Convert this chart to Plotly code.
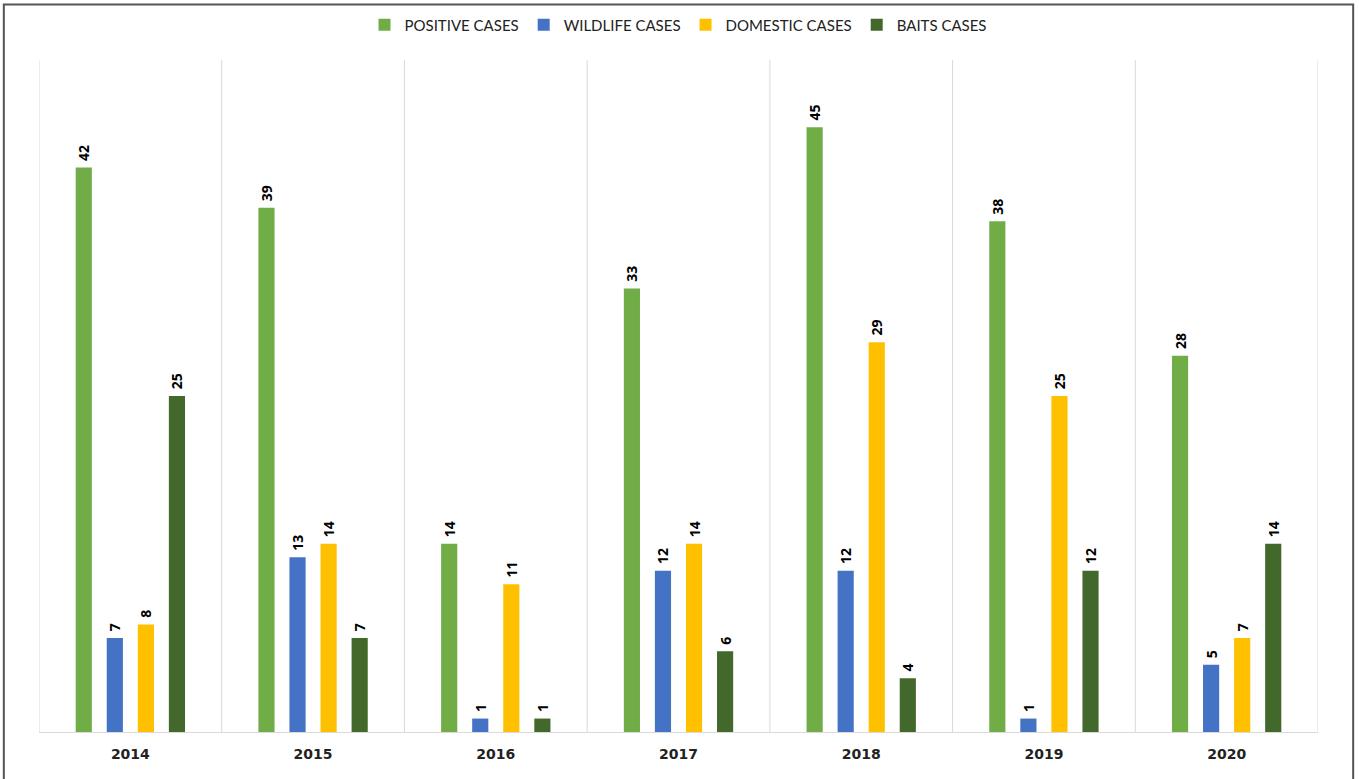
import plotly.graph_objects as go

years = ["2014", "2015", "2016", "2017", "2018", "2019", "2020"]
positive = [42, 39, 14, 33, 45, 38, 28]
wildlife = [7, 13, 1, 12, 12, 1, 5]
domestic = [8, 14, 11, 14, 29, 25, 7]
baits = [25, 7, 1, 6, 4, 12, 14]

series = [
    ("POSITIVE CASES", positive, "#70AD47"),
    ("WILDLIFE CASES", wildlife, "#4472C4"),
    ("DOMESTIC CASES", domestic, "#FFC000"),
    ("BAITS CASES", baits, "#43682B"),
]

xpos = list(range(len(years)))
fig = go.Figure()
for name, vals, col in series:
    fig.add_trace(go.Bar(
        x=xpos, y=vals, name=name, marker_color=col, marker_line_width=0,
        text=["\u00a0" + str(v) for v in vals], textposition="outside", textangle=-90,
        constraintext="none",
        textfont=dict(family="Open Sans", size=14, color="#000", weight="bold"),
        cliponaxis=False, hoverinfo="skip",
    ))

shapes = []
for i in range(len(years) + 1):
    shapes.append(dict(type="line", xref="x", yref="paper", x0=i - 0.5, x1=i - 0.5,
                       y0=0, y1=1, line=dict(color="#d9d9d9", width=1), layer="below"))
shapes.append(dict(type="rect", xref="paper", yref="paper", x0=-0.0275, x1=1.0275,
                   y0=-0.1, y1=1.0826, line=dict(color="#555", width=2)))

fig.update_layout(
    width=1359, height=779,
    margin=dict(l=39, r=41, t=60, b=47, autoexpand=False),
    paper_bgcolor="white", plot_bgcolor="white",
    barmode="group", bargap=0.32, bargroupgap=0.48,
    shapes=shapes,
    showlegend=True,
    legend=dict(orientation="h", x=0.5, xanchor="center", y=1.052, yanchor="middle",
                font=dict(family="Lato", size=15, color="#222"), traceorder="normal",
                itemwidth=30),
    xaxis=dict(range=[-0.5, len(years) - 0.5], tickvals=xpos, ticktext=years,
               showgrid=False, zeroline=False, showline=True, linecolor="#d9d9d9", linewidth=1,
               ticks="", ticklabelstandoff=9,
               tickfont=dict(family="DejaVu Sans", size=14, color="#222", weight="bold")),
    yaxis=dict(range=[0, 50], visible=False, showgrid=False, zeroline=False),
)

fig.write_html("out.html", config={"displayModeBar": False},
               post_script="document.body.style.margin='0';document.body.style.overflow='hidden';")
